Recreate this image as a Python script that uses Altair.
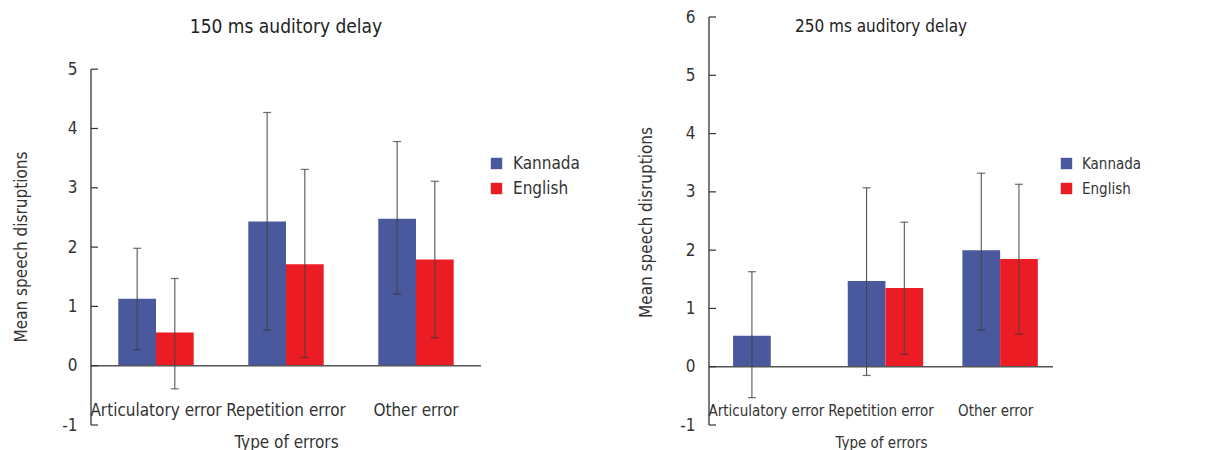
import altair as alt
import pandas as pd

FONT = "Liberation Sans Narrow, DejaVu Sans Condensed, Roboto Condensed, Arial Narrow, sans-serif"

categories = ["Articulatory error", "Repetition error", "Other error"]
languages = ["Kannada", "English"]
colors = ["#4a589e", "#ec1c24"]

# 150 ms auditory delay
kannada_150 = [1.13, 2.43, 2.48]
kannada_150_lo = [0.27, 0.60, 1.21]
kannada_150_hi = [1.98, 4.27, 3.78]
english_150 = [0.56, 1.71, 1.79]
english_150_lo = [-0.39, 0.14, 0.47]
english_150_hi = [1.47, 3.31, 3.11]

# 250 ms auditory delay (no English articulatory bar)
kannada_250 = [0.53, 1.47, 2.00]
kannada_250_lo = [-0.53, -0.15, 0.63]
kannada_250_hi = [1.63, 3.07, 3.32]
english_250 = [None, 1.35, 1.85]
english_250_lo = [None, 0.21, 0.56]
english_250_hi = [None, 2.48, 3.13]

ticks_150 = [-1, 0, 1, 2, 3, 4, 5]
ticks_250 = [-1, 0, 1, 2, 3, 4, 5, 6]


def make_df(k, klo, khi, e, elo, ehi):
    rows = []
    for i, c in enumerate(categories):
        rows.append({"Type": c, "Language": "Kannada", "Mean": k[i], "lo": klo[i], "hi": khi[i]})
        if e[i] is not None:
            rows.append({"Type": c, "Language": "English", "Mean": e[i], "lo": elo[i], "hi": ehi[i]})
    return pd.DataFrame(rows)


YTITLE = "Mean speech disruptions"
XTITLE = "Type of errors"


def panel(title, df, ticks, dom_top, width, height, ytitle_y, ytitle_x, legend_x, legend_y,
          fs, yfs, title_fs, title_offset, row_pad):
    yscale = alt.Scale(domain=[ticks[0], dom_top], nice=False, zero=False)
    xenc = alt.X(
        "Type:N", sort=categories, title=XTITLE,
        scale=alt.Scale(paddingInner=0.42, paddingOuter=0.21),
        axis=alt.Axis(labelAngle=0, domain=False, ticks=False, tickSize=0,
                      labelPadding=-15, labelBaseline="middle",
                      labelFontSize=fs, titleFontSize=fs,
                      titleY=17, titleBaseline="middle"),
    )
    xoff = alt.XOffset("Language:N", sort=languages, scale=alt.Scale(domain=languages, paddingInner=0, paddingOuter=0))
    base = alt.Chart(df)
    bars = base.mark_bar().encode(
        x=xenc,
        xOffset=xoff,
        y=alt.Y("Mean:Q", scale=yscale, title=YTITLE,
                axis=alt.Axis(values=ticks, domain=False, ticks=False, grid=False,
                              labelExpr="'' + datum.value",
                              labelFontSize=yfs, titleFontSize=yfs,
                              labelPadding=14, titleX=ytitle_x, titleY=ytitle_y,
                              titleBaseline="middle", titleAngle=270)),
        y2=alt.datum(0),
        color=alt.Color("Language:N", sort=languages,
                        scale=alt.Scale(domain=languages, range=colors),
                        legend=alt.Legend(title=None, orient="none", legendX=legend_x, legendY=legend_y,
                                          symbolType="square", symbolSize=130, symbolStrokeWidth=0,
                                          labelFontSize=fs, rowPadding=row_pad, labelOffset=8)),
    )
    err = base.mark_rule(color="#444", strokeWidth=1).encode(
        x=alt.X("Type:N", sort=categories, title=XTITLE),
        xOffset=xoff,
        y=alt.Y("lo:Q", scale=yscale, title=YTITLE),
        y2="hi:Q",
    )
    cap_lo = base.mark_tick(color="#333", size=8, thickness=1.2, orient="horizontal").encode(
        x=alt.X("Type:N", sort=categories, title=XTITLE),
        xOffset=xoff,
        y=alt.Y("lo:Q", scale=yscale, title=YTITLE),
    )
    cap_hi = base.mark_tick(color="#333", size=8, thickness=1.2, orient="horizontal").encode(
        x=alt.X("Type:N", sort=categories, title=XTITLE),
        xOffset=xoff,
        y=alt.Y("hi:Q", scale=yscale, title=YTITLE),
    )
    zero = alt.Chart(pd.DataFrame({"v": [0]})).mark_rule(color="#555", strokeWidth=1.5).encode(
        y=alt.Y("v:Q", scale=yscale, title=YTITLE)
    )
    axis_line = alt.Chart(pd.DataFrame({"a": [ticks[0]], "b": [ticks[-1]]})).mark_rule(
        color="#333", strokeWidth=1.3
    ).encode(x=alt.value(0), y=alt.Y("a:Q", scale=yscale, title=YTITLE), y2="b:Q")
    tick_marks = alt.Chart(pd.DataFrame({"t": ticks})).mark_rule(color="#333", strokeWidth=1.2).encode(
        x=alt.value(0), x2=alt.value(7), y=alt.Y("t:Q", scale=yscale, title=YTITLE)
    )
    return alt.layer(bars, zero, err, cap_lo, cap_hi, axis_line, tick_marks).properties(
        width=width, height=height,
        title=alt.TitleParams(title, fontSize=title_fs, fontWeight="normal", font=FONT, color="#222",
                              frame="group", anchor="middle", offset=title_offset),
    )


df150 = make_df(kannada_150, kannada_150_lo, kannada_150_hi, english_150, english_150_lo, english_150_hi)
df250 = make_df(kannada_250, kannada_250_lo, kannada_250_hi, english_250, english_250_lo, english_250_hi)

left = panel("150 ms auditory delay", df150, ticks_150, 5.88, 390, 408, 229.5, -70, 397, 138,
             17, 17, 19, -20, 7)
right = panel("250 ms auditory delay", df250, ticks_250, 6.0, 344, 408, 205, -63, 350, 139,
              15, 17, 17, -28, 9)

chart = alt.hconcat(left, right, spacing=228, bounds="flush").resolve_scale(
    x="independent", y="independent", color="independent"
).resolve_legend(color="independent").properties(
    padding={"left": 4, "top": 0, "right": 5, "bottom": 2}
).configure(font=FONT).configure_view(strokeWidth=0).configure_axis(
    labelFont=FONT, titleFont=FONT,
    labelColor="#333", titleColor="#333", titleFontWeight="normal"
).configure_legend(labelFont=FONT, labelColor="#333")

chart.save("out.html", embed_options={"renderer": "svg", "actions": False})
